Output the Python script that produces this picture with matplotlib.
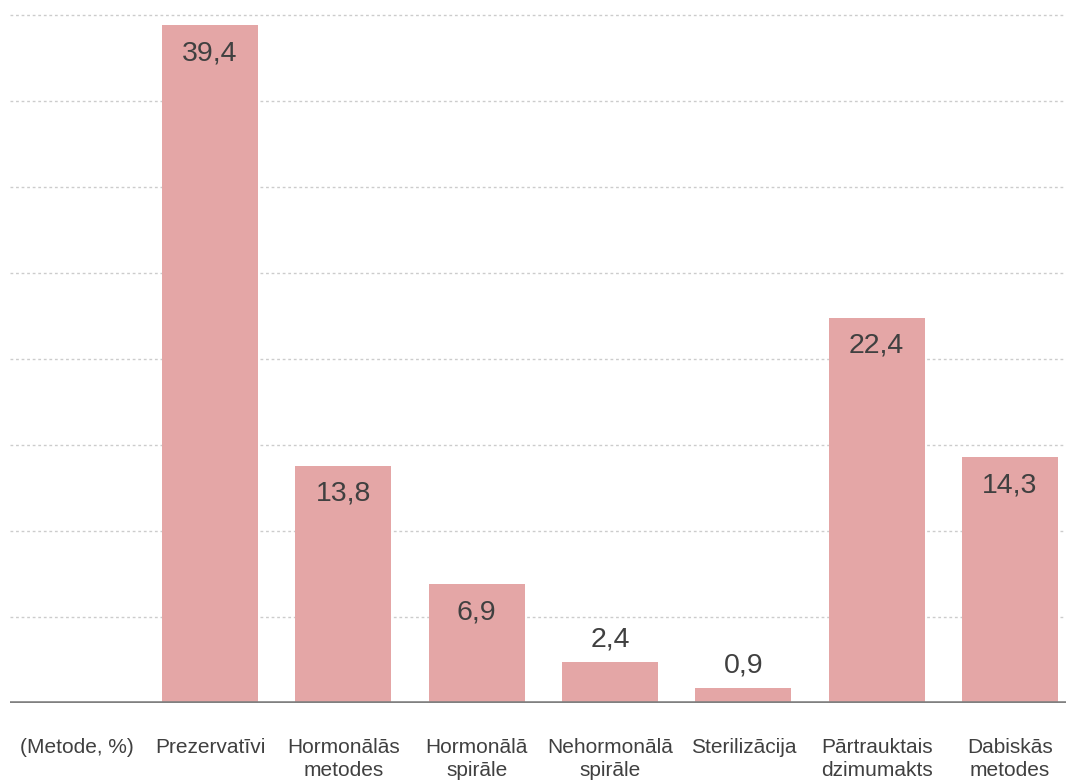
import matplotlib.pyplot as plt
import numpy as np

# contraception methods, share of respondents (%)
categories = ["(Metode, %)", "Prezervatīvi", "Hormonālās\nmetodes", "Hormonālā\nspirāle",
              "Nehormonālā\nspirāle", "Sterilizācija", "Pārtrauktais\ndzimumakts", "Dabiskās\nmetodes"]
values = [np.nan, 39.4, 13.8, 6.9, 2.4, 0.9, 22.4, 14.3]
grid_ticks = [5, 10, 15, 20, 25, 30, 35, 40]

BAR_COLOR = "#E4A6A6"
TEXT_COLOR = "#404040"
FONT = ["Liberation Sans Narrow", "Liberation Sans", "DejaVu Sans"]

plt.rcParams['font.family'] = FONT

fig = plt.figure(figsize=(10.66, 7.82), dpi=100)
ax = fig.add_axes([10 / 1066, 79 / 782, 1 - 10 / 1066, 1 - 79 / 782])

x = np.arange(len(categories))
bar_vals = [0 if np.isnan(v) else v for v in values]
ax.bar(x, bar_vals, width=0.72, color=BAR_COLOR, zorder=2)

# value labels: inside the bar top for tall bars, above for short ones
for xi, v in zip(x, values):
    if np.isnan(v):
        continue
    label = f"{v:.1f}".replace(".", ",")
    offset = -28 if v > 5 else 22
    ax.annotate(label, (xi, v), xytext=(0, offset), textcoords="offset pixels",
                ha="center", va="center", fontsize=20.5, color=TEXT_COLOR, zorder=3)

for t in grid_ticks:
    ax.axhline(t, color="#CCCCCC", linestyle=(0, (2, 2)), linewidth=1, zorder=1)
ax.axhline(0, color="#808080", linewidth=2.6, zorder=4)

ax.set_xlim(-0.5, 7.42)
ax.set_ylim(0, 40.87)
ax.set_yticks([])
ax.set_xticks(x)
ax.set_xticklabels(categories, fontsize=15, color=TEXT_COLOR, linespacing=1.3)
ax.tick_params(axis="x", length=0, pad=25)
for s in ax.spines.values():
    s.set_visible(False)

fig.savefig("out.png", dpi=100)
